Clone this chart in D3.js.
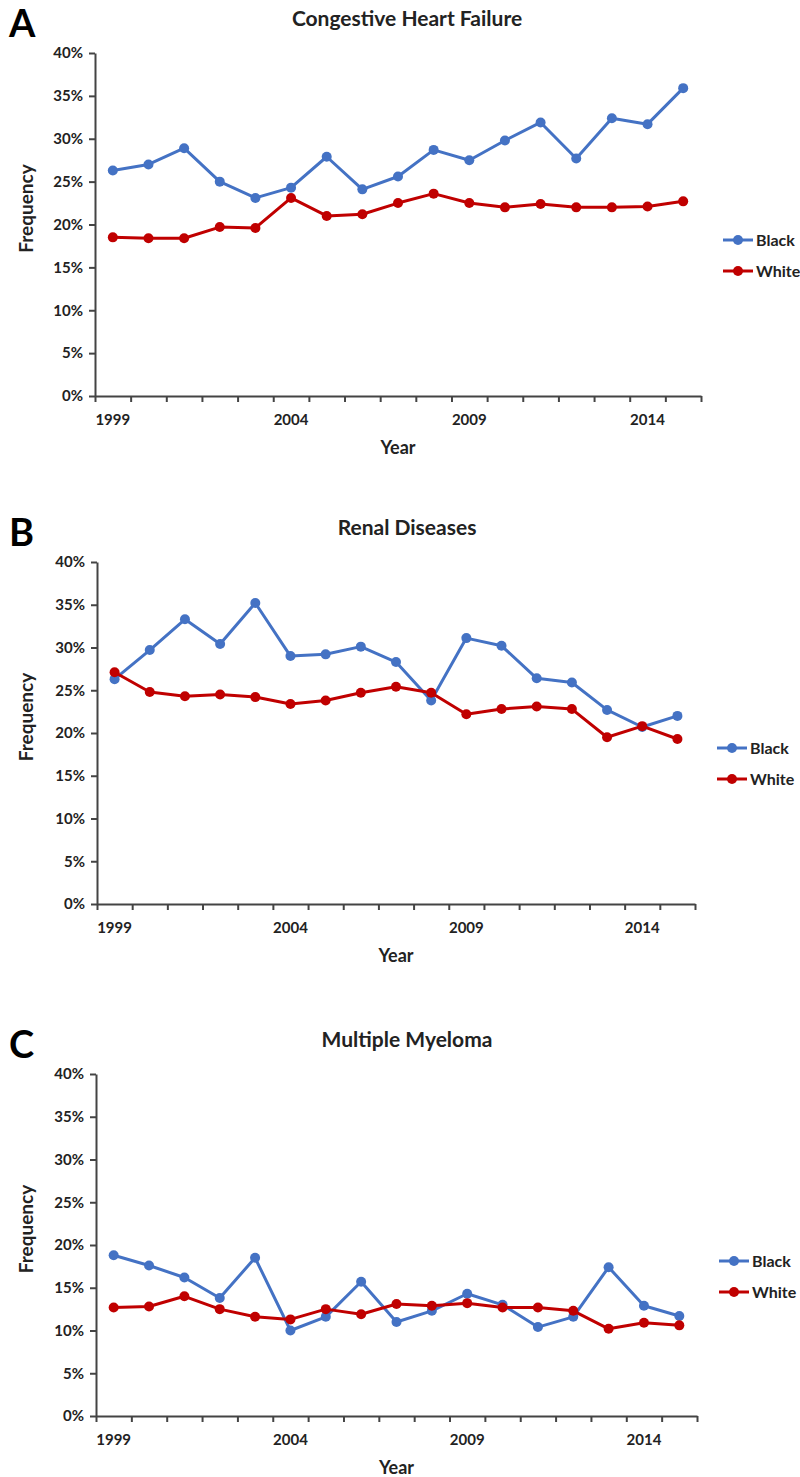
<!DOCTYPE html>
<html>
<head>
<meta charset="utf-8">
<script src="https://cdn.jsdelivr.net/npm/d3@7"></script>
<style>
  body { margin: 0; background: #fff; }
  svg text { font-family: Lato, "Open Sans", sans-serif; font-weight: bold; fill: #222; }
  .axis path, .axis line { stroke: #444; stroke-width: 2; }
  .axis text { font-size: 15px; }
</style>
</head>
<body>
<div id="output"></div>
<script>
const years = [1999, 2000, 2001, 2002, 2003, 2004, 2005, 2006, 2007, 2008, 2009, 2010, 2011, 2012, 2013, 2014, 2015];
const yearLabels = [1999, 2004, 2009, 2014];
const yTicks = [0, 5, 10, 15, 20, 25, 30, 35, 40];
const seriesNames = ['Black', 'White'];
const seriesColors = ['#4472C4', '#C00000'];
const panelLetters = ['A', 'B', 'C'];
const panelTitles = ['Congestive Heart Failure', 'Renal Diseases', 'Multiple Myeloma'];

const chfBlack = [26.3, 27.0, 28.9, 25.0, 23.1, 24.3, 27.9, 24.1, 25.6, 28.7, 27.5, 29.8, 31.9, 27.7, 32.4, 31.7, 35.9];
const chfWhite = [18.5, 18.4, 18.4, 19.7, 19.6, 23.1, 21.0, 21.2, 22.5, 23.6, 22.5, 22.0, 22.4, 22.0, 22.0, 22.1, 22.7];
const renalBlack = [26.3, 29.7, 33.3, 30.4, 35.2, 29.0, 29.2, 30.1, 28.3, 23.8, 31.1, 30.2, 26.4, 25.9, 22.7, 20.7, 22.0];
const renalWhite = [27.1, 24.8, 24.3, 24.5, 24.2, 23.4, 23.8, 24.7, 25.4, 24.7, 22.2, 22.8, 23.1, 22.8, 19.5, 20.8, 19.3];
const mmBlack = [18.8, 17.6, 16.2, 13.8, 18.5, 10.0, 11.6, 15.7, 11.0, 12.3, 14.3, 13.0, 10.4, 11.6, 17.4, 12.9, 11.7];
const mmWhite = [12.7, 12.8, 14.0, 12.5, 11.6, 11.3, 12.5, 11.9, 13.1, 12.9, 13.2, 12.7, 12.7, 12.3, 10.2, 10.9, 10.6];

const panelSeries = [[chfBlack, chfWhite], [renalBlack, renalWhite], [mmBlack, mmWhite]];

// plot-area boxes per panel
const layout = [
  { top: 53, bottom: 396, left: 95, right: 701, legendY: 240 },
  { top: 562, bottom: 904, left: 97, right: 695, legendY: 748 },
  { top: 1074, bottom: 1416, left: 96, right: 697, legendY: 1261 }
];

const svg = d3.select('#output')
  .append('svg')
  .attr('width', 800)
  .attr('height', 1477);

panelSeries.forEach((series, i) => {
  const L = layout[i];
  const g = svg.append('g');

  const x = d3.scaleBand().domain(years).range([L.left, L.right]).paddingInner(0).paddingOuter(0);
  const xEdge = d3.scaleLinear().domain([0, years.length]).range([L.left, L.right]);
  const y = d3.scaleLinear().domain([0, 40]).range([L.bottom, L.top]);
  const cx = d => x(d) + x.bandwidth() / 2;

  // y axis
  g.append('g')
    .attr('class', 'axis')
    .attr('transform', `translate(${L.left},0)`)
    .call(d3.axisLeft(y).tickValues(yTicks).tickFormat(d => d + '%').tickSize(6).tickSizeOuter(0))
    .call(a => a.selectAll('text').attr('dx', -3));

  // x axis tick marks between categories
  g.append('g')
    .attr('class', 'axis')
    .attr('transform', `translate(0,${L.bottom})`)
    .call(d3.axisBottom(xEdge).tickValues(d3.range(years.length + 1)).tickFormat('').tickSize(6).tickSizeOuter(0));

  // x labels
  g.append('g')
    .selectAll('text')
    .data(yearLabels)
    .join('text')
    .attr('x', d => cx(d))
    .attr('y', L.bottom + 29)
    .attr('text-anchor', 'middle')
    .style('font-size', '15px')
    .text(d => d);

  // axis titles
  g.append('text')
    .attr('x', (L.left + L.right) / 2)
    .attr('y', L.bottom + 58)
    .attr('text-anchor', 'middle')
    .style('font-size', '18px')
    .text('Year');

  g.append('text')
    .attr('transform', `translate(33,${(L.top + L.bottom) / 2 - 16}) rotate(-90)`)
    .attr('text-anchor', 'middle')
    .style('font-size', '19px')
    .text('Frequency');

  // title and panel letter
  g.append('text')
    .attr('x', 407)
    .attr('y', L.top - 27)
    .attr('text-anchor', 'middle')
    .style('font-size', '21px')
    .text(panelTitles[i]);

  g.append('text')
    .attr('x', 9)
    .attr('y', L.top - 16)
    .style('font-size', '38px')
    .style('fill', '#000')
    .text(panelLetters[i]);

  // lines + markers
  series.forEach((vals, s) => {
    const pts = years.map((yr, k) => [cx(yr), y(vals[k])]);
    g.append('path')
      .attr('d', d3.line()(pts))
      .attr('fill', 'none')
      .attr('stroke', seriesColors[s])
      .attr('stroke-width', 3)
      .attr('stroke-linejoin', 'round');
    g.append('g')
      .selectAll('circle')
      .data(pts)
      .join('circle')
      .attr('cx', d => d[0])
      .attr('cy', d => d[1])
      .attr('r', 5)
      .attr('fill', seriesColors[s]);
  });

  // legend
  const lg = g.append('g').attr('transform', `translate(${L.right + 22},${L.legendY})`);
  seriesNames.forEach((name, s) => {
    const row = lg.append('g').attr('transform', `translate(0,${s * 31})`);
    row.append('line')
      .attr('x1', 0).attr('x2', 30)
      .attr('stroke', seriesColors[s])
      .attr('stroke-width', 3);
    row.append('circle')
      .attr('cx', 15)
      .attr('r', 5)
      .attr('fill', seriesColors[s]);
    row.append('text')
      .attr('x', 33)
      .attr('dy', '0.35em')
      .style('font-size', '16px')
      .text(name);
  });
});
</script>
</body>
</html>
